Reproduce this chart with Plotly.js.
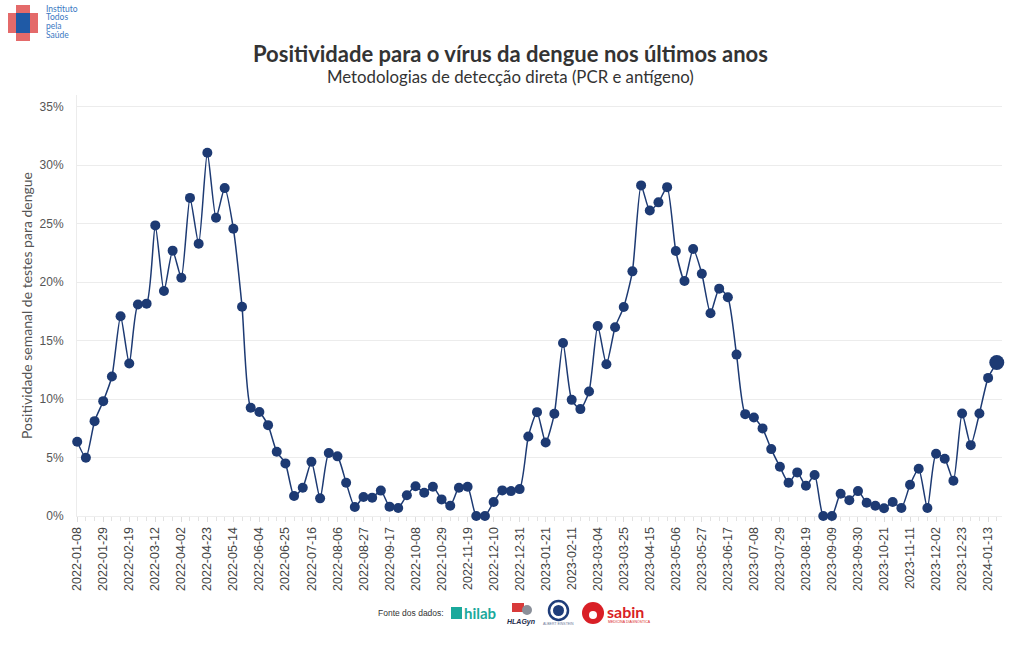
<!DOCTYPE html>
<html>
<head>
<meta charset="utf-8">
<script src="https://cdn.plot.ly/plotly-3.0.1.min.js"></script>
<style>html,body{margin:0;padding:0;background:#fff;}#chart{width:1020px;height:650px;}</style>
</head>
<body>
<div id="chart"></div>
<script>
// ---- data ----
const startWeek = '2022-01-08';
const positivity = [
  6.35, 4.98, 8.11, 9.82, 11.93, 17.08, 13.04, 18.08, 18.16, 24.85,
  19.24, 22.69, 20.38, 27.2, 23.28, 31.06, 25.5, 28.04, 24.57, 17.9,
  9.25, 8.9, 7.77, 5.49, 4.5, 1.71, 2.42, 4.64, 1.51, 5.38,
  5.1, 2.85, 0.77, 1.62, 1.57, 2.17, 0.8, 0.68, 1.77, 2.54,
  1.99, 2.5, 1.42, 0.88, 2.42, 2.5, 0, 0, 1.2, 2.19,
  2.13, 2.3, 6.8, 8.88, 6.29, 8.74, 14.8, 9.93, 9.14, 10.65,
  16.25, 12.98, 16.14, 17.87, 20.92, 28.27, 26.13, 26.82, 28.12, 22.66,
  20.1, 22.83, 20.72, 17.34, 19.44, 18.7, 13.8, 8.71, 8.43, 7.49,
  5.72, 4.21, 2.85, 3.73, 2.59, 3.5, 0, 0, 1.9, 1.34,
  2.13, 1.14, 0.88, 0.66, 1.2, 0.68, 2.67, 4.04, 0.68, 5.32,
  4.9, 3.02, 8.77, 6.06, 8.77, 11.81, 13.12
];
const tickLabels = [
  '2022-01-08','2022-01-29','2022-02-19','2022-03-12','2022-04-02','2022-04-23',
  '2022-05-14','2022-06-04','2022-06-25','2022-07-16','2022-08-06','2022-08-27',
  '2022-09-17','2022-10-08','2022-10-29','2022-11-19','2022-12-10','2022-12-31',
  '2023-01-21','2023-02-11','2023-03-04','2023-03-25','2023-04-15','2023-05-06',
  '2023-05-27','2023-06-17','2023-07-08','2023-07-29','2023-08-19','2023-09-09',
  '2023-09-30','2023-10-21','2023-11-11','2023-12-02','2023-12-23','2024-01-13'
];
const yTicks = [0, 5, 10, 15, 20, 25, 30, 35];
const yTickText = ['0%','5%','10%','15%','20%','25%','30%','35%'];

// weekly dates (one per value)
const weeks = [];
{
  const d0 = new Date(startWeek + 'T00:00:00Z');
  for (let i = 0; i < positivity.length; i++) {
    const d = new Date(d0.getTime() + i * 7 * 86400000);
    weeks.push(d.toISOString().slice(0, 10));
  }
}

// ---- layout helpers (pixel -> paper) ----
const L = 77, R = 1002, T = 95, B = 516;
const px = v => (v - L) / (R - L);
const py = v => (B - v) / (B - T);

const navy = '#1d3a73';
const sizes = positivity.map((v, i) => i === positivity.length - 1 ? 15 : 10);

const trace = {
  x: weeks, y: positivity, type: 'scatter', mode: 'lines+markers',
  line: {color: navy, width: 1.5, shape: 'spline', smoothing: 0.6},
  marker: {color: navy, size: sizes, opacity: 1, line: {width: 0}},
  opacity: 1,
  cliponaxis: false, hoverinfo: 'x+y'
};

const shapes = [
  // logo cross
  {type:'rect', xref:'paper', yref:'paper', x0:px(8), x1:px(38), y0:py(33), y1:py(13), fillcolor:'#e46a6a', line:{width:0}, layer:'above'},
  {type:'rect', xref:'paper', yref:'paper', x0:px(16), x1:px(30), y0:py(41), y1:py(5), fillcolor:'#e46a6a', line:{width:0}, layer:'above'},
  {type:'rect', xref:'paper', yref:'paper', x0:px(16), x1:px(30), y0:py(33), y1:py(13), fillcolor:'#1f5aa6', line:{width:0}, layer:'above'},
  // hilab icon
  {type:'rect', xref:'paper', yref:'paper', x0:px(451), x1:px(462), y0:py(619), y1:py(607), fillcolor:'#1aa99c', line:{width:0}},
  // HLAGyn icon
  {type:'rect', xref:'paper', yref:'paper', x0:px(512), x1:px(524), y0:py(612), y1:py(603), fillcolor:'#d83a3a', line:{width:0}},
  {type:'circle', xref:'paper', yref:'paper', x0:px(522), x1:px(532), y0:py(615), y1:py(605), fillcolor:'#8a8f99', line:{width:0}},
  // Einstein circle
  {type:'circle', xref:'paper', yref:'paper', x0:px(549), x1:px(568), y0:py(620), y1:py(601), fillcolor:'#ffffff', line:{color:'#1f3d7a', width:2.5}},
  {type:'circle', xref:'paper', yref:'paper', x0:px(553), x1:px(564), y0:py(616), y1:py(605), fillcolor:'#1f3d7a', line:{width:0}},
  // sabin circle
  {type:'circle', xref:'paper', yref:'paper', x0:px(582), x1:px(604), y0:py(624), y1:py(602), fillcolor:'#d91f26', line:{width:0}},
  {type:'circle', xref:'paper', yref:'paper', x0:px(589), x1:px(597), y0:py(619), y1:py(611), fillcolor:'#ffffff', line:{width:0}}
];

const ann = (text, x, y, opts) => Object.assign({
  text, xref:'paper', yref:'paper', x:px(x), y:py(y), showarrow:false,
  xanchor:'left', yanchor:'middle'
}, opts);

const annotations = [
  ann('<b>Positividade para o vírus da dengue nos últimos anos</b>', 510, 54,
      {xanchor:'center', font:{family:'Lato, sans-serif', size:22, color:'#333'}}),
  ann('Metodologias de detecção direta (PCR e antígeno)', 510, 76,
      {xanchor:'center', font:{family:'Lato, sans-serif', size:16.8, color:'#333'}}),
  ann('Instituto', 44, 9, {font:{family:'Lato, sans-serif', size:8.5, color:'#3a78c2'}}),
  ann('Todos', 44, 17.5, {font:{family:'Lato, sans-serif', size:8.5, color:'#3a78c2'}}),
  ann('pela', 44, 26, {font:{family:'Lato, sans-serif', size:8.5, color:'#3a78c2'}}),
  ann('Saúde', 44, 34.5, {font:{family:'Lato, sans-serif', size:8.5, color:'#3a78c2'}}),
  ann('Fonte dos dados:', 376, 613, {font:{family:'Liberation Sans, Arial, sans-serif', size:8.5, color:'#333'}}),
  ann('<b>hilab</b>', 462, 613, {font:{family:'Lato, sans-serif', size:15, color:'#1aa99c'}}),
  ann('<b><i>HLAGyn</i></b>', 505, 622, {font:{family:'Liberation Sans, Arial, sans-serif', size:7, color:'#1b2a4a'}}),
  ann('ALBERT EINSTEIN', 558, 624, {xanchor:'center', font:{family:'Liberation Sans, Arial, sans-serif', size:3.5, color:'#6b7a99'}}),
  ann('<b>sabin</b>', 605, 611, {font:{family:'Lato, sans-serif', size:16, color:'#d91f26'}}),
  ann('MEDICINA DIAGNÓSTICA', 606, 621, {font:{family:'Liberation Sans, Arial, sans-serif', size:3.5, color:'#d91f26'}})
];

const layout = {
  width: 1020, height: 650,
  margin: {l: L, r: 1020 - R, t: T, b: 650 - B, pad: 0},
  paper_bgcolor: '#fff', plot_bgcolor: '#fff',
  showlegend: false,
  xaxis: {
    type: 'date',
    range: ['2022-01-07 20:00', '2024-01-24 05:00'],
    tickmode: 'array', tickvals: tickLabels, ticktext: tickLabels,
    tickangle: -90, ticks: 'outside', ticklen: 5, tickcolor: '#ddd',
    tickfont: {family: 'Liberation Sans, Arial, sans-serif', size: 12.5, color: '#444'},
    showgrid: false, zeroline: false, showline: true, linecolor: '#eee',
    layer: 'below traces',
    minor: {dtick: 7 * 86400000, tick0: startWeek, ticks: 'outside', ticklen: 4, tickcolor: '#e3e3e3', showgrid: false}
  },
  yaxis: {
    range: [0, 36], tickmode: 'array', tickvals: yTicks, ticktext: yTickText,
    tickfont: {family: 'Liberation Sans, Arial, sans-serif', size: 12, color: '#555'},
    showgrid: true, gridcolor: '#ececec', gridwidth: 1,
    zeroline: false, showline: true, linecolor: '#ececec',
    layer: 'below traces',
    ticks: '', ticklabelstandoff: 10,
    title: {text: 'Positividade semanal de testes para dengue', standoff: 3,
            font: {family: 'Lato, sans-serif', size: 14, color: '#555'}}
  },
  shapes, annotations
};

Plotly.newPlot('chart', [trace], layout, {displayModeBar: false, staticPlot: true});
</script>
</body>
</html>
